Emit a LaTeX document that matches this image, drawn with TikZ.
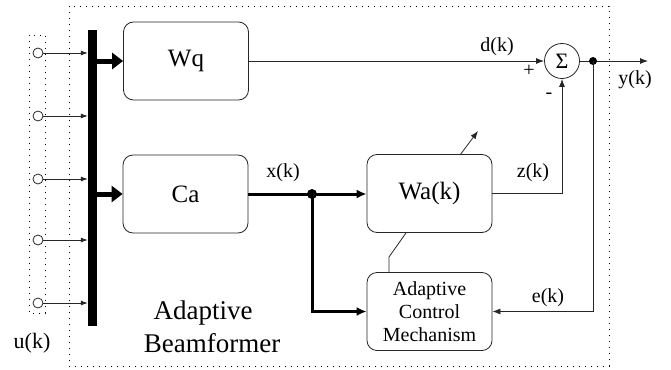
\documentclass[tikz,border=0pt]{standalone}
\usepackage{fontspec}
\setmainfont{Liberation Serif}
\usetikzlibrary{arrows.meta,calc}
\begin{document}
\begin{tikzpicture}[x=1pt,y=-1pt,
 blk/.style={draw=black!85, rounded corners=10pt, minimum width=125pt, minimum height=78pt, inner sep=0pt, line width=0.8pt, font=\fontsize{25}{27}\selectfont},
 thin/.style={line width=0.8pt, draw=black!85},
 thk/.style={line width=3pt},
 tip/.style={-{Latex[length=8pt,width=6pt]}},
 thktip/.style={-{Latex[length=10pt,width=9pt]}},
 bigtip/.style={line width=5pt, -{Triangle[length=11pt,width=16pt]}},
 lbl/.style={font=\fontsize{20}{22}\selectfont, inner sep=0pt},
 dots/.style={line width=0.8pt, dash pattern=on 0.8pt off 5.2pt},
 sens/.style={circle, draw=black!85, line width=0.8pt, minimum size=10pt, inner sep=0pt}
]
\useasboundingbox (0,0) rectangle (671,369);
% outer dotted box
\draw[dots] (69,6) rectangle (609,366);
% sensor dotted box
\draw[dots] (29,35) rectangle (45,313);
% bar
\node[fill=black, minimum width=9pt, minimum height=296pt, inner sep=0pt] (bar) at (92.5,178) {};
% sensors
\foreach \i/\y in {1/53,2/116,3/179,4/240,5/303}{
  \node[sens] (s\i) at (38,\y) {};
  \draw[thin, -{Latex[length=7pt,width=5pt]}] (s\i.east) -- (bar.west |- s\i.east);
}
\node[lbl, font=\fontsize{22}{24}\selectfont] (uk) at (32,343) {u(k)};
% blocks
\node[blk] (wq) at (186,61) {Wq};
\node[blk] (ca) at (185.5,194) {Ca};
\node[blk] (wa) at (429.5,193.5) {Wa(k)};
\node[blk, align=center, font=\fontsize{20}{23}\selectfont] (acm) at (429.5,311.5) {Adaptive\\Control\\Mechanism};
% thick arrows from bar
\draw[bigtip] (bar.east |- wq.west) -- (wq.west);
\draw[bigtip] (bar.east |- ca.west) -- (ca.west);
% sum
\node[circle, draw=black!85, line width=0.8pt, minimum size=35pt, inner sep=0pt, font=\fontsize{22}{24}\selectfont] (sum) at (562,61) {Σ};
\draw[thin, tip] (wq.east) -- (sum.west);
\node[lbl] (dk) at (497,47) {d(k)};
\node[lbl] (plus) at (529,71) {+};
\node[lbl] (minus) at (549,96) {-};
% z(k)
\draw[thin, tip] (wa.east) -- (sum.south |- wa.east) -- (sum.south);
\node[lbl] (zk) at (533,173) {z(k)};
% output
\coordinate (yout) at (648,61);
\coordinate (oj) at (593,61);
\draw[thin, tip] (sum.east) -- (yout);
\fill (oj) circle (4pt);
\node[lbl] (yk) at (635,80) {y(k)};
% e(k)
\draw[thin, tip] (oj) -- (oj |- acm.east) -- (acm.east);
\node[lbl] (ek) at (548,298) {e(k)};
% x(k)
\coordinate (xj) at (312,194);
\draw[thk, thktip] (ca.east) -- (wa.west |- ca.east);
\draw[thk, thktip] (xj) |- (acm.west);
\fill (xj) circle (5pt);
\node[lbl] (xk) at (283,173) {x(k)};
% acm - wa link
\coordinate (c1) at (389,257);
\coordinate (c2) at (406,232);
\draw[thin] (acm.north -| c1) -- (c1) -- (wa.south -| c2);
% adaptation arrow
\coordinate (a1) at (460,155);
\coordinate (a2) at (478,131);
\draw[thin, tip] (a1) -- (a2);
% title
\node[lbl, font=\fontsize{27}{29}\selectfont] (ab1) at (203,313) {Adaptive};
\node[lbl, font=\fontsize{27}{29}\selectfont] (ab2) at (212,343) {Beamformer};
\end{tikzpicture}
\end{document}
